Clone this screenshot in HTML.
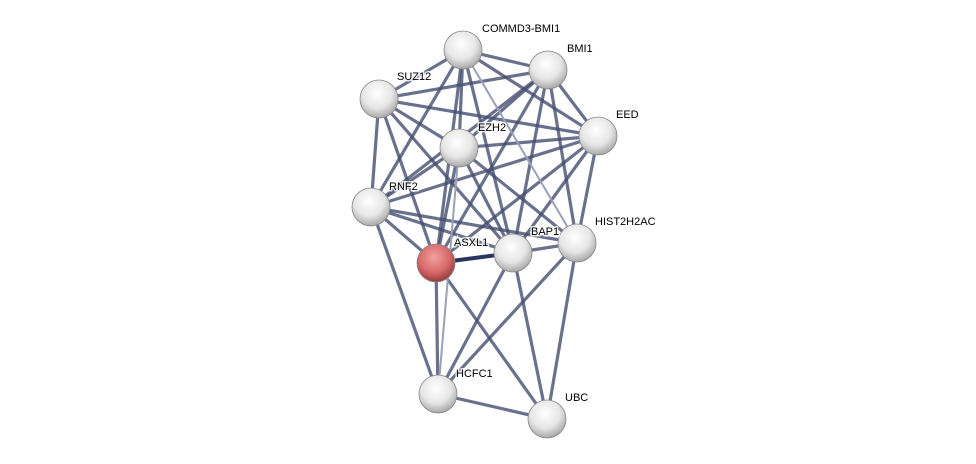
<!DOCTYPE html>
<html><head><meta charset="utf-8"><style>
html,body{margin:0;padding:0;background:#fff;width:976px;height:464px;overflow:hidden}
text{font-family:"Liberation Sans",sans-serif;font-size:11px;fill:#000;stroke:#fff;stroke-width:3px;stroke-opacity:0.8;paint-order:stroke}
</style></head><body>
<svg width="976" height="464" viewBox="0 0 976 464" xmlns="http://www.w3.org/2000/svg">
<defs>
<radialGradient id="g" cx="45%" cy="35%" r="65%">
<stop offset="0" stop-color="#ffffff"/><stop offset="0.6" stop-color="#e6e6e6"/><stop offset="1" stop-color="#a8a8a8"/>
</radialGradient>
<radialGradient id="r" cx="45%" cy="35%" r="65%">
<stop offset="0" stop-color="#f3a0a0"/><stop offset="0.6" stop-color="#d86a6a"/><stop offset="1" stop-color="#9a3a3a"/>
</radialGradient>
</defs>
<g stroke="#434d70" stroke-width="3.2" stroke-opacity="0.8" fill="none">
<line x1="463" y1="50" x2="379" y2="99"/><line x1="463" y1="50" x2="548" y2="70"/><line x1="463" y1="50" x2="459" y2="148"/>
<line x1="463" y1="50" x2="598" y2="136"/><line x1="463" y1="50" x2="371" y2="207"/><line x1="463" y1="50" x2="436" y2="263"/>
<line x1="463" y1="50" x2="513" y2="253"/>
<line x1="548" y1="70" x2="379" y2="99"/><line x1="548" y1="70" x2="459" y2="148"/><line x1="548" y1="70" x2="598" y2="136"/>
<line x1="548" y1="70" x2="371" y2="207"/><line x1="548" y1="70" x2="436" y2="263"/><line x1="548" y1="70" x2="513" y2="253"/>
<line x1="548" y1="70" x2="577" y2="243"/>
<line x1="379" y1="99" x2="459" y2="148"/><line x1="379" y1="99" x2="598" y2="136"/><line x1="379" y1="99" x2="371" y2="207"/>
<line x1="379" y1="99" x2="436" y2="263"/><line x1="379" y1="99" x2="513" y2="253"/>
<line x1="598" y1="136" x2="459" y2="148"/><line x1="598" y1="136" x2="371" y2="207"/><line x1="598" y1="136" x2="436" y2="263"/>
<line x1="598" y1="136" x2="513" y2="253"/><line x1="598" y1="136" x2="577" y2="243"/>
<line x1="459" y1="148" x2="371" y2="207"/><line x1="459" y1="148" x2="436" y2="263"/><line x1="459" y1="148" x2="513" y2="253"/>
<line x1="459" y1="148" x2="577" y2="243"/>
<line x1="371" y1="207" x2="436" y2="263"/><line x1="371" y1="207" x2="513" y2="253"/><line x1="371" y1="207" x2="577" y2="243"/>
<line x1="371" y1="207" x2="438" y2="394"/>
<line x1="513" y1="253" x2="577" y2="243"/>
<line x1="436" y1="263" x2="438" y2="394"/><line x1="513" y1="253" x2="438" y2="394"/><line x1="577" y1="243" x2="438" y2="394"/>
<line x1="438" y1="394" x2="547" y2="419"/><line x1="436" y1="263" x2="547" y2="419"/><line x1="513" y1="253" x2="547" y2="419"/>
<line x1="577" y1="243" x2="547" y2="419"/>
</g>
<line x1="436" y1="263" x2="513" y2="253" stroke="#2a3460" stroke-width="4"/>
<g stroke="#9aa0b8" stroke-width="2" fill="none">
<line x1="463" y1="50" x2="577" y2="243"/><line x1="459" y1="148" x2="438" y2="394"/>
</g>
<g stroke="#888" stroke-width="0.8">
<circle cx="463" cy="50" r="19" fill="url(#g)"/>
<circle cx="548" cy="70" r="19" fill="url(#g)"/>
<circle cx="379" cy="99" r="19" fill="url(#g)"/>
<circle cx="598" cy="136" r="19" fill="url(#g)"/>
<circle cx="459" cy="148" r="19" fill="url(#g)"/>
<circle cx="371" cy="207" r="19" fill="url(#g)"/>
<circle cx="513" cy="253" r="19" fill="url(#g)"/>
<circle cx="577" cy="243" r="19" fill="url(#g)"/>
<circle cx="436" cy="263" r="19" fill="url(#r)"/>
<circle cx="438" cy="394" r="19" fill="url(#g)"/>
<circle cx="547" cy="419" r="19" fill="url(#g)"/>
</g>
<text x="482" y="32">COMMD3-BMI1</text>
<text x="567" y="52">BMI1</text>
<text x="397" y="80">SUZ12</text>
<text x="616" y="118">EED</text>
<text x="478" y="131">EZH2</text>
<text x="389" y="190">RNF2</text>
<text x="531" y="235">BAP1</text>
<text x="595" y="225">HIST2H2AC</text>
<text x="454" y="246">ASXL1</text>
<text x="456" y="377">HCFC1</text>
<text x="565" y="401">UBC</text>
</svg>
</body></html>
